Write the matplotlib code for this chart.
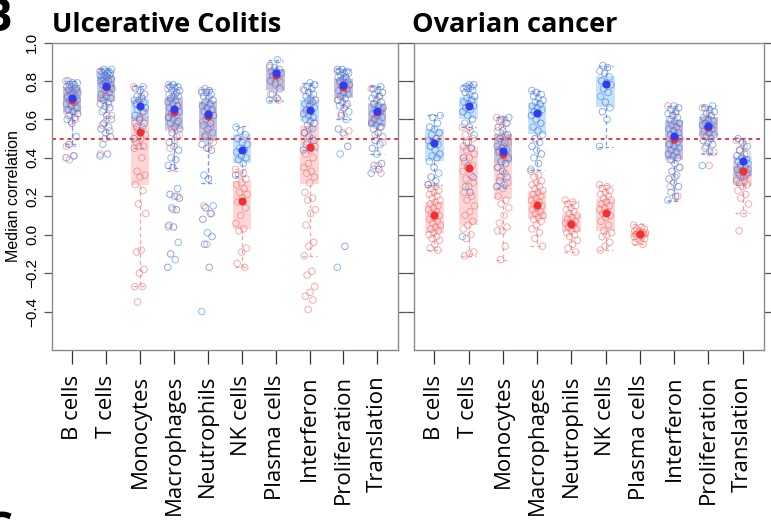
import matplotlib
matplotlib.use("Agg")
import matplotlib.pyplot as plt
import numpy as np

categories = ["B cells", "T cells", "Monocytes", "Macrophages", "Neutrophils",
              "NK cells", "Plasma cells", "Interferon", "Proliferation", "Translation"]

# ---- Ulcerative Colitis: box stats (blue / red method) ----
uc_blue_med = [0.71, 0.775, 0.667, 0.653, 0.629, 0.442, 0.84, 0.648, 0.779, 0.646]
uc_blue_q1 = [0.64, 0.695, 0.59, 0.551, 0.494, 0.371, 0.753, 0.59, 0.715, 0.566]
uc_blue_q3 = [0.77, 0.825, 0.705, 0.719, 0.696, 0.525, 0.861, 0.701, 0.814, 0.687]
uc_blue_lo = [0.47, 0.505, 0.45, 0.346, 0.268, 0.306, 0.696, 0.44, 0.601, 0.421]
uc_blue_hi = [0.80, 0.86, 0.775, 0.784, 0.757, 0.563, 0.909, 0.788, 0.861, 0.774]

uc_red_med = [0.70, 0.77, 0.535, 0.64, 0.62, 0.173, 0.83, 0.455, 0.77, 0.64]
uc_red_q1 = [0.63, 0.69, 0.256, 0.54, 0.49, 0.031, 0.75, 0.265, 0.71, 0.56]
uc_red_q3 = [0.77, 0.82, 0.615, 0.71, 0.69, 0.28, 0.86, 0.566, 0.81, 0.68]
uc_red_lo = [0.46, 0.50, -0.268, 0.33, 0.27, -0.168, 0.70, -0.109, 0.60, 0.42]
uc_red_hi = [0.80, 0.86, 0.775, 0.78, 0.76, 0.341, 0.90, 0.788, 0.86, 0.77]

uc_blue_pts = [
    [.80, .79, .79, .78, .78, .77, .77, .76, .75, .74, .74, .73, .72, .72, .71, .70, .70, .69, .68, .67,
     .66, .65, .64, .63, .62, .61, .60, .58, .51, .47, .41, .40],
    [.86, .86, .85, .85, .85, .84, .84, .84, .83, .83, .83, .82, .82, .81, .81, .80, .80, .79, .78, .78,
     .77, .76, .75, .74, .73, .72, .71, .70, .69, .68, .67, .66, .64, .62, .60, .58, .56, .55, .53, .51,
     .47, .42, .41],
    [.77, .76, .75, .73, .72, .71, .70, .70, .69, .68, .67, .66, .65, .64, .62, .60, .58, .56, .54, .50],
    [.78, .78, .77, .77, .76, .75, .75, .74, .73, .72, .72, .71, .70, .69, .68, .67, .66, .65, .64, .63,
     .62, .61, .60, .59, .58, .56, .55, .53, .51, .48, .46, .44, .40, .39, .36, .35, .24, .21, .20, .19,
     .14, .13, .05, .04, -.04, -.10, -.13, -.17],
    [.76, .75, .74, .74, .73, .72, .71, .70, .69, .68, .67, .66, .65, .64, .63, .62, .60, .58, .57, .55,
     .53, .51, .49, .47, .45, .44, .31, .29, .15, .14, .11, .08, .01, -.01, -.05, -.17, -.40],
    [.56, .54, .52, .50, .48, .47, .45, .44, .43, .41, .40, .39, .37, .31],
    [.91, .88, .87, .86, .85, .85, .84, .83, .82, .80, .79, .76, .73, .71, .70],
    [.79, .78, .77, .76, .75, .74, .73, .72, .71, .70, .70, .69, .68, .67, .66, .65, .64, .63, .62, .61,
     .60, .59, .58, .57, .55, .53, .51, .49, .47, .45, .44],
    [.86, .86, .85, .85, .84, .84, .83, .82, .82, .81, .80, .80, .79, .78, .77, .76, .75, .74, .73, .72,
     .71, .70, .69, .68, .67, .66, .64, .62, .60, .55, .53, .46, .42, -.06, -.17],
    [.77, .76, .75, .74, .73, .72, .71, .70, .69, .68, .67, .66, .65, .64, .63, .62, .61, .60, .59, .58,
     .57, .56, .55, .53, .51, .49, .47, .45, .42, .37, .36, .34, .32],
]
uc_red_pts = [
    [.80, .78, .76, .75, .73, .71, .69, .68, .66, .64, .62, .60, .59, .46, .41, .39],
    [.85, .82, .80, .77, .74, .71, .68, .65, .62, .60, .57, .54, .50, .42],
    [.77, .72, .68, .64, .61, .58, .56, .54, .52, .50, .48, .46, .46, .45, .40, .33, .31, .30, .26, .23,
     .16, .11, -.08, -.09, -.18, -.20, -.27, -.27, -.35],
    [.76, .73, .70, .67, .64, .61, .58, .55, .52, .49, .45, .20, .13, .04],
    [.75, .72, .68, .65, .62, .59, .56, .52, .48, .45, .15, .11, -.05],
    [.34, .32, .31, .29, .27, .26, .24, .22, .21, .19, .17, .14, .10, .06, .03, .02, -.07, -.09, -.15, -.17],
    [.87, .84, .82, .80, .78, .73, .70],
    [.76, .70, .64, .58, .55, .53, .50, .48, .46, .44, .42, .40, .37, .35, .33, .32, .30, .27, .22, .19,
     .18, .13, .11, .05, -.04, -.06, -.11, -.19, -.21, -.27, -.30, -.32, -.34, -.39],
    [.85, .82, .79, .76, .73, .70, .67, .63, .54, .52],
    [.76, .72, .68, .65, .62, .59, .56, .52, .48, .36, .34, .32],
]

# ---- Ovarian cancer: box stats (None = no box) ----
oc_blue_med = [0.476, 0.667, 0.433, 0.632, None, 0.783, None, 0.516, 0.563, 0.381]
oc_blue_q1 = [0.384, 0.604, 0.372, 0.523, None, 0.663, None, 0.395, 0.511, 0.306]
oc_blue_q3 = [0.551, 0.715, 0.523, 0.687, None, 0.828, None, 0.597, 0.61, 0.407]
oc_blue_lo = [0.258, 0.56, 0.242, 0.334, None, 0.455, None, 0.173, 0.424, 0.26]
oc_blue_hi = [0.623, 0.779, 0.611, 0.748, None, 0.878, None, 0.672, 0.667, 0.502]

oc_red_med = [0.10, 0.346, 0.42, 0.156, 0.057, 0.113, 0.005, 0.50, 0.56, 0.33]
oc_red_q1 = [0.009, 0.052, 0.187, 0.083, 0.014, 0.017, -0.012, 0.39, 0.51, 0.26]
oc_red_q3 = [0.17, 0.459, 0.523, 0.225, 0.109, 0.185, 0.021, 0.59, 0.61, 0.355]
oc_red_lo = [-0.081, -0.113, -0.13, -0.057, -0.088, -0.081, -0.047, 0.18, 0.42, 0.113]
oc_red_hi = [0.26, 0.56, 0.611, 0.334, 0.177, 0.256, 0.055, 0.67, 0.667, 0.49]

oc_blue_pts = [
    [.62, .61, .58, .56, .55, .53, .52, .50, .49, .48, .47, .46, .44, .42, .41, .40, .38, .35, .32, .30,
     .28, .26],
    [.78, .78, .77, .77, .76, .76, .75, .74, .73, .72, .71, .70, .69, .68, .67, .66, .65, .64, .62, .60,
     .58, .56, .52, .48, .45, .40, .36, .30, .25, .22, -.01],
    [.61, .60, .58, .56, .54, .52, .50, .48, .46, .45, .44, .43, .42, .40, .38, .37, .35, .33, .30, .28,
     .26, .25],
    [.75, .74, .73, .72, .71, .70, .69, .68, .67, .66, .65, .64, .63, .62, .60, .58, .56, .54, .52, .50,
     .48, .46, .44, .42, .40, .37, .34],
    [],
    [.88, .87, .85, .84, .82, .80, .79, .78, .76, .74, .72, .69, .66, .64, .60, .46],
    [],
    [.67, .66, .65, .64, .63, .62, .61, .60, .59, .58, .57, .56, .55, .54, .53, .52, .51, .50, .49, .48,
     .47, .46, .45, .44, .43, .42, .41, .40, .39, .37, .35, .33, .31, .29, .27, .25, .22, .20, .18],
    [.67, .66, .65, .64, .63, .62, .61, .60, .59, .58, .57, .57, .56, .55, .54, .53, .52, .51, .50, .49,
     .48, .47, .45, .43, .36],
    [.50, .48, .46, .44, .42, .41, .40, .39, .38, .38, .37, .36, .35, .34, .33, .32, .31, .30, .28],
]
oc_red_pts = [
    [.26, .25, .24, .23, .22, .21, .20, .19, .18, .17, .16, .15, .14, .13, .12, .11, .10, .09, .08, .07,
     .06, .05, .04, .03, .02, .01, .00, -.01, -.02, -.03, -.05, -.07, -.08],
    [.56, .54, .52, .50, .48, .46, .45, .44, .42, .40, .38, .36, .35, .33, .31, .29, .27, .25, .22, .20,
     .18, .15, .12, .10, .07, .05, .03, .00, -.02, -.09, -.10, -.11],
    [.61, .60, .59, .58, .56, .54, .52, .50, .48, .46, .44, .41, .38, .35, .32, .30, .27, .24, .20, .18,
     .16, .14, .10, .06, .04, .02, .02, -.06, -.13],
    [.33, .31, .30, .28, .27, .26, .25, .24, .23, .22, .21, .20, .19, .18, .17, .16, .15, .14, .13, .12,
     .11, .10, .09, .08, .07, .05, .03, .01, -.02, -.06],
    [.18, .17, .16, .15, .14, .13, .12, .11, .10, .09, .08, .07, .06, .06, .05, .04, .03, .02, .01, .00,
     -.01, -.03, -.05, -.07, -.09],
    [.26, .25, .24, .23, .22, .21, .20, .19, .18, .17, .16, .15, .14, .13, .12, .11, .10, .09, .07, .05,
     .02, .01, .00, -.01, -.04, -.06, -.08],
    [.05, .04, .03, .03, .02, .02, .01, .01, .01, .00, .00, .00, .00, -.01, -.01, -.02, -.02, -.03, -.04, -.05],
    [.67, .63, .59, .55, .51, .47, .43, .39, .35, .30, .25, .20],
    [.66, .63, .60, .57, .55, .52, .50, .46, .43, .36],
    [.49, .46, .44, .42, .40, .38, .36, .35, .34, .33, .32, .31, .30, .29, .28, .27, .26, .25, .23, .21,
     .19, .16, .11, .02],
]

RED_BOX = (1.0, 0.0, 0.0, 0.16)
BLUE_BOX = (0.12, 0.56, 1.0, 0.26)
RED_WHISK = "#f3a3a3"
BLUE_WHISK = "#6f9fe6"
RED_PT = "#ef6a6a"
BLUE_PTS = ["#3d8fe8", "#5468cc"]
RED_MED = "#f23030"
BLUE_MED = "#2f3cf0"


def jitter(n):
    # deterministic spread across the box width
    k = np.arange(n)
    return ((k * 0.618034) % 1.0 - 0.5) * 0.36


def box_stats(med, q1, q3, lo, hi):
    out, pos = [], []
    for i in range(len(med)):
        if med[i] is None:
            continue
        out.append(dict(med=med[i], q1=q1[i], q3=q3[i], whislo=lo[i], whishi=hi[i], fliers=[]))
        pos.append(i + 1)
    return out, pos


def draw_boxes(ax, stats, pos, face, wcol):
    ax.bxp(stats, positions=pos, widths=0.54, capwidths=0.42, patch_artist=True,
           showfliers=False,
           boxprops=dict(facecolor=face, edgecolor="none", linewidth=0),
           whiskerprops=dict(color=wcol, linestyle=(0, (3, 2.5)), linewidth=0.9),
           capprops=dict(color=wcol, linestyle=(0, (3, 2.5)), linewidth=0.9),
           medianprops=dict(linewidth=0))


def draw_panel(ax, blue, red, bpts, rpts):
    bs, bpos = box_stats(*blue)
    rs, rpos = box_stats(*red)
    draw_boxes(ax, rs, rpos, RED_BOX, RED_WHISK)
    draw_boxes(ax, bs, bpos, BLUE_BOX, BLUE_WHISK)

    for i, vals in enumerate(rpts):
        if len(vals) == 0:
            continue
        x = i + 1 + jitter(len(vals))
        ax.scatter(x, vals, s=22, facecolors="none", edgecolors=RED_PT, linewidths=0.7,
                   alpha=0.55, zorder=3)
    for i, vals in enumerate(bpts):
        if len(vals) == 0:
            continue
        x = i + 1 + jitter(len(vals))[::-1]
        cols = [BLUE_PTS[j % 2] for j in range(len(vals))]
        ax.scatter(x, vals, s=22, facecolors="none", edgecolors=cols, linewidths=0.7,
                   alpha=0.6, zorder=3)

    ax.scatter(rpos, [s["med"] for s in rs], s=34, color=RED_MED, zorder=4, linewidths=0)
    ax.scatter(bpos, [s["med"] for s in bs], s=34, color=BLUE_MED, zorder=5, linewidths=0)

    ax.axhline(0.5, color="#e83a3a", linestyle=(0, (2, 2)), linewidth=1.4, zorder=2)

    ax.set_xlim(0.39, 10.61)
    ax.set_ylim(-0.6, 1.0)
    ax.set_yticks([-0.4, -0.2, 0.0, 0.2, 0.4, 0.6, 0.8, 1.0])
    ax.set_xticks(np.arange(1, 11))
    ax.set_xticklabels(categories, rotation=90, fontsize=16, family="Open Sans")
    ax.tick_params(axis="x", direction="out", length=10, width=0.9, pad=8, colors="#333333",
                   labelcolor="black")
    ax.tick_params(axis="y", direction="out", length=5.5, width=0.9, right=True,
                   colors="#555555", labelcolor="black")
    for sp in ax.spines.values():
        sp.set_color("#8a8a8a")
        sp.set_linewidth(1.0)


fig = plt.figure(figsize=(7.71, 5.24), dpi=100)
ax1 = fig.add_axes([51.5 / 771, 174 / 524, 346.5 / 771, 307.5 / 524])
ax2 = fig.add_axes([413.5 / 771, 174 / 524, 350 / 771, 307.5 / 524])

draw_panel(ax1,
           (uc_blue_med, uc_blue_q1, uc_blue_q3, uc_blue_lo, uc_blue_hi),
           (uc_red_med, uc_red_q1, uc_red_q3, uc_red_lo, uc_red_hi),
           uc_blue_pts, uc_red_pts)
draw_panel(ax2,
           (oc_blue_med, oc_blue_q1, oc_blue_q3, oc_blue_lo, oc_blue_hi),
           (oc_red_med, oc_red_q1, oc_red_q3, oc_red_lo, oc_red_hi),
           oc_blue_pts, oc_red_pts)

ax1.set_yticklabels(["\u22120.4", "\u22120.2", "0.0", "0.2", "0.4", "0.6", "0.8", "1.0"],
                    rotation=90, va="center", fontsize=11, family="Liberation Sans")
ax1.set_ylabel("Median correlation", fontsize=11.5, family="Liberation Sans", labelpad=3)
ax2.set_yticklabels([])

fig.text(52 / 771, 1 - 32 / 524, "Ulcerative Colitis", fontsize=19.5, fontweight="bold",
         family="Open Sans", va="baseline", ha="left")
fig.text(412 / 771, 1 - 32 / 524, "Ovarian cancer", fontsize=19.5, fontweight="bold",
         family="Open Sans", va="baseline", ha="left")
fig.text(13 / 771, 1 - 31 / 524, "B", fontsize=33, fontweight="bold",
         family="Open Sans", va="baseline", ha="right")
fig.text(13 / 771, 1 - 545 / 524, "C", fontsize=33, fontweight="bold",
         family="Open Sans", va="baseline", ha="right")

fig.savefig("out.png", dpi=100)
